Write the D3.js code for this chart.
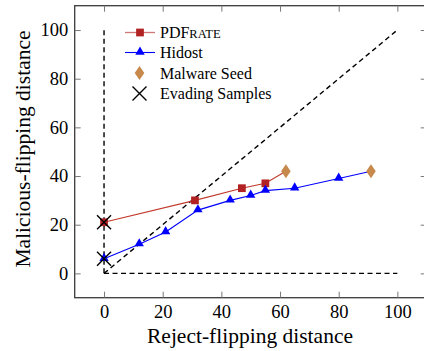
<!DOCTYPE html>
<html><head><meta charset="utf-8">
<script src="https://cdn.jsdelivr.net/npm/d3@7"></script>
<style>body{margin:0;background:#fff}svg{display:block}</style>
</head><body>
<script>
const xTicks = [0, 20, 40, 60, 80, 100];
const yTicks = [0, 20, 40, 60, 80, 100];
const pdfrateX = [0, 31, 47, 55, 62];
const pdfrateY = [21, 30, 35, 37, 42];
const hidostX = [0, 12, 21, 32, 43, 50, 55, 65, 80, 91];
const hidostY = [6, 12, 17, 26, 30, 32, 34, 35, 39, 42];
const seedX = [62, 91];
const seedY = [42, 42];
const evadeX = [0, 0];
const evadeY = [21, 6];
const refX = [0, 100];
const refY = [0, 100];
const legendLabels = ["PDFrate", "Hidost", "Malware Seed", "Evading Samples"];

const FONT = "'Liberation Serif', 'DejaVu Serif', serif";
const W = 424, H = 351;
const svg = d3.select("body").append("svg").attr("width", W).attr("height", H)
  .style("font-family", FONT);
const x = d3.scaleLinear().domain([-10, 110]).range([74.7, 426.7]);
const y = d3.scaleLinear().domain([-10, 110]).range([297.7, 5.7]);
const red = "#b22222", redLine = "#c0392b", blue = "#0000ff", seedCol = "#c8894c";

const frame = "#3a3a3a";
svg.append("rect").attr("x", x(-10)).attr("y", y(110)).attr("width", x(110) - x(-10)).attr("height", y(-10) - y(110))
  .attr("fill", "none").attr("stroke", frame).attr("stroke-width", 1.3);

const tl = 6;
const gB = svg.append("g").attr("transform", `translate(0,${y(-10)})`)
  .call(d3.axisBottom(x).tickValues(xTicks).tickSizeInner(-tl).tickSizeOuter(0).tickPadding(7));
const gT = svg.append("g").attr("transform", `translate(0,${y(110)})`)
  .call(d3.axisTop(x).tickValues(xTicks).tickSizeInner(-tl).tickSizeOuter(0).tickFormat(""));
const gL = svg.append("g").attr("transform", `translate(${x(-10)},0)`)
  .call(d3.axisLeft(y).tickValues(yTicks).tickSizeInner(-tl).tickSizeOuter(0).tickPadding(6.5));
const gR = svg.append("g").attr("transform", `translate(${x(110)},0)`)
  .call(d3.axisRight(y).tickValues(yTicks).tickSizeInner(-tl).tickSizeOuter(0).tickFormat(""));
[gB, gT, gL, gR].forEach(g => {
  g.attr("font-family", null).attr("font-size", null);
  g.select(".domain").remove();
  g.selectAll(".tick line").attr("stroke", "#777").attr("stroke-width", 1);
  g.selectAll(".tick text").style("font-size", "18.5px").attr("fill", "#000").style("font-family", FONT);
});

const dash = "5,3.5";
const line = d3.line().x(d => x(d[0])).y(d => y(d[1]));
const dashed = pts => svg.append("path").attr("d", line(pts)).attr("stroke", "#000").attr("stroke-width", 1.4).attr("stroke-dasharray", dash).attr("fill", "none");
dashed([[refX[0], refY[0]], [refX[0], refY[1]]]);
dashed([[refX[0], refY[0]], [refX[1], refY[0]]]);
dashed(refX.map((v, i) => [v, refY[i]]));

const pd = pdfrateX.map((v, i) => [v, pdfrateY[i]]);
const hd = hidostX.map((v, i) => [v, hidostY[i]]);
svg.append("path").attr("d", line(pd)).attr("stroke", redLine).attr("stroke-width", 1.1).attr("fill", "none");
svg.append("path").attr("d", line(hd)).attr("stroke", blue).attr("stroke-width", 1.1).attr("fill", "none");

const sq = d3.symbol().type(d3.symbolSquare).size(60);
const tri = d3.symbol().type(d3.symbolTriangle).size(38);
const diamond = "M0,-7L4.8,0L0,7L-4.8,0Z";
const cross = "M-7,-7L7,7M-7,7L7,-7";

svg.selectAll(".sq").data(pd.slice(0, -1)).join("path")
  .attr("d", sq).attr("transform", d => `translate(${x(d[0])},${y(d[1])})`).attr("fill", red);
svg.selectAll(".tri").data(hd.slice(0, -1)).join("path")
  .attr("d", tri).attr("transform", d => `translate(${x(d[0])},${y(d[1]) - 0.5})`).attr("fill", blue);
svg.selectAll(".dia").data(seedX.map((v, i) => [v, seedY[i]])).join("path")
  .attr("d", diamond).attr("transform", d => `translate(${x(d[0])},${y(d[1])})`).attr("fill", seedCol);
svg.selectAll(".ev").data(evadeX.map((v, i) => [v, evadeY[i]])).join("path")
  .attr("d", cross).attr("transform", d => `translate(${x(d[0])},${y(d[1])})`).attr("stroke", "#000").attr("stroke-width", 1.4).attr("fill", "none");

const lg = svg.append("g");
const lx = 125, lx2 = 155, tx = 160, rows = [32.5, 52.5, 73, 93.5];
lg.append("line").attr("x1", lx).attr("x2", lx2).attr("y1", rows[0]).attr("y2", rows[0]).attr("stroke", "#d27575").attr("stroke-width", 1.3);
lg.append("path").attr("d", sq).attr("transform", `translate(140,${rows[0]})`).attr("fill", red);
lg.append("line").attr("x1", lx).attr("x2", lx2).attr("y1", rows[1]).attr("y2", rows[1]).attr("stroke", blue).attr("stroke-width", 1.1);
lg.append("path").attr("d", tri).attr("transform", `translate(140,${rows[1] - 0.5})`).attr("fill", blue);
lg.append("path").attr("d", diamond).attr("transform", `translate(139.5,${rows[2]})`).attr("fill", seedCol);
lg.append("path").attr("d", cross).attr("transform", `translate(139.5,${rows[3]})`).attr("stroke", "#000").attr("stroke-width", 1.4).attr("fill", "none");
legendLabels.forEach((t, i) => {
  const te = lg.append("text").attr("x", tx).attr("y", rows[i]).attr("dy", "0.35em").style("font-size", "16px").attr("fill", "#000").style("font-family", FONT);
  if (t === "PDFrate") {
    te.append("tspan").text("PDF");
    te.append("tspan").style("font-size", "12.5px").text("RATE");
  } else te.text(t);
});

svg.append("text").attr("x", 250).attr("y", 342.5).attr("text-anchor", "middle").style("font-size", "21.5px").style("font-family", FONT).text("Reject-flipping distance");
svg.append("text").attr("transform", "translate(30,149) rotate(-90)").attr("text-anchor", "middle").style("font-size", "21.5px").style("font-family", FONT).text("Malicious-flipping distance");
</script>
</body></html>
